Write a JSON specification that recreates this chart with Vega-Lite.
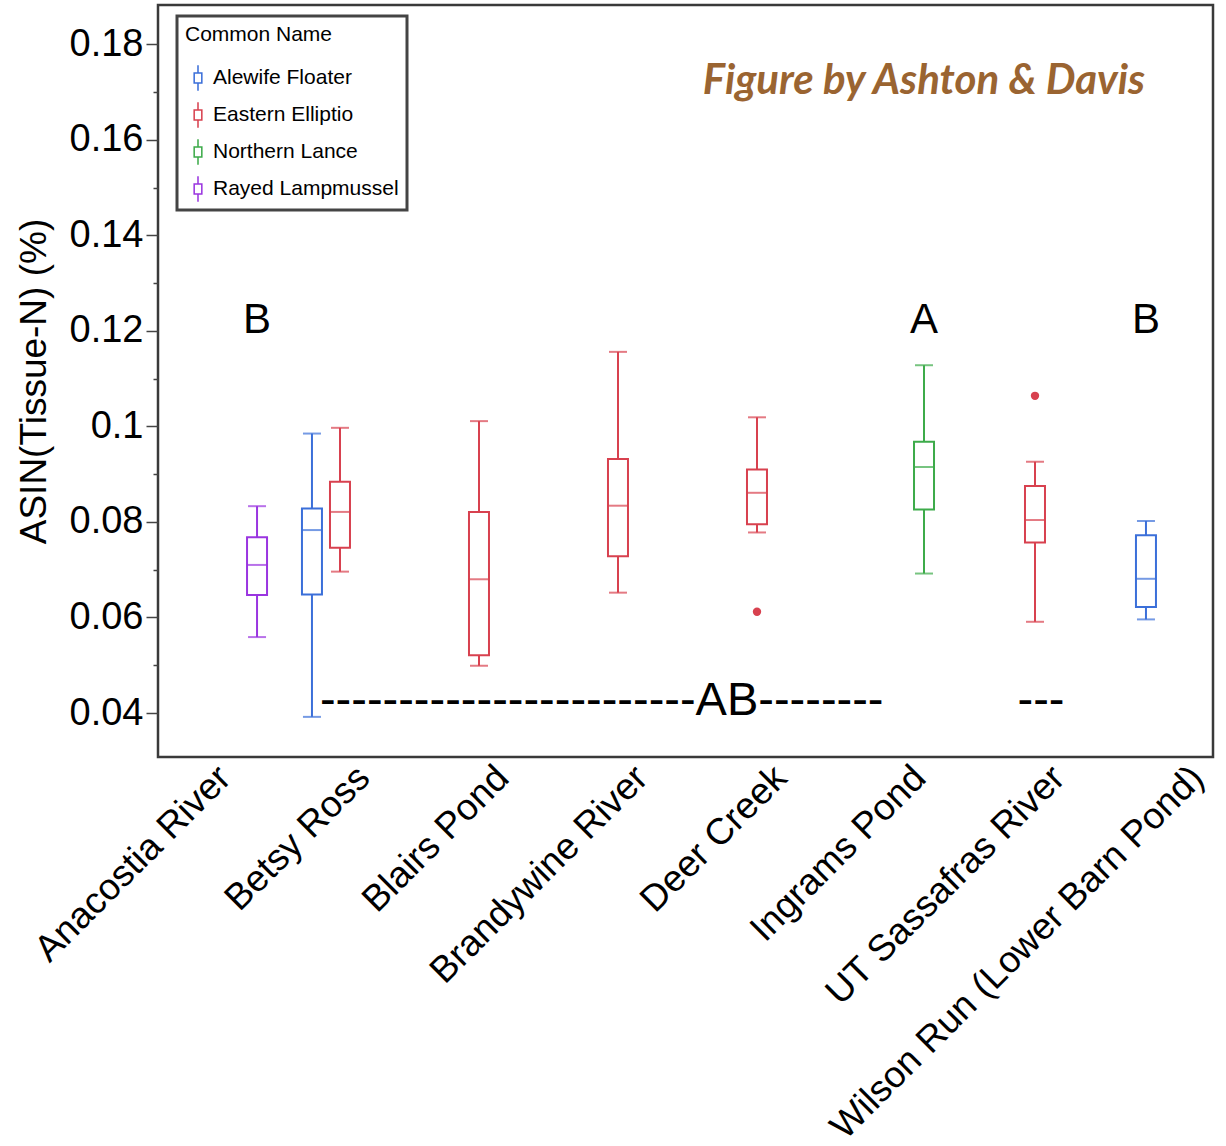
{
  "$schema": "https://vega.github.io/schema/vega-lite/v6.json",
  "autosize": {"type": "none"},
  "padding": {"left": 158, "top": 5, "right": 13, "bottom": 389},
  "width": 1055,
  "height": 752,
  "background": "white",
  "config": {
    "font": "Liberation Sans",
    "view": {"stroke": "#3a3a3a", "strokeWidth": 2.5},
    "axis": {"grid": false},
    "axisY": {
      "labelExpr": "round(datum.value*100) % 2 == 0 ? format(datum.value, '.2~f') : ''",
      "tickSize": 12,
      "tickColor": "#444",
      "tickWidth": 1.5,
      "domain": false,
      "labelFontSize": 38,
      "labelColor": "black",
      "labelPadding": 3,
      "titleFontSize": 37,
      "titleFontWeight": "normal",
      "titleColor": "black",
      "titlePadding": 16
    },
    "legend": {"strokeWidth": 3, "strokeColor": "#444"}
  },
  "title": {
    "text": "Figure by Ashton & Davis",
    "anchor": "end",
    "frame": "group",
    "font": "Lato",
    "fontSize": 42,
    "fontWeight": "bold",
    "fontStyle": "italic",
    "color": "#9a6431",
    "baseline": "middle",
    "offset": 0,
    "dx": -68,
    "dy": 118
  },
  "datasets": {
    "boxes": [
      {"site": "Anacostia River", "species": "Rayed Lampmussel", "lo": 0.0559, "q1": 0.0647, "med": 0.0710, "q3": 0.0768, "hi": 0.0833},
      {"site": "Betsy Ross", "species": "Alewife Floater", "lo": 0.0392, "q1": 0.0648, "med": 0.0783, "q3": 0.0828, "hi": 0.0985},
      {"site": "Betsy Ross", "species": "Eastern Elliptio", "lo": 0.0696, "q1": 0.0746, "med": 0.0821, "q3": 0.0884, "hi": 0.0997},
      {"site": "Blairs Pond", "species": "Eastern Elliptio", "lo": 0.0499, "q1": 0.0521, "med": 0.0680, "q3": 0.0821, "hi": 0.1011},
      {"site": "Brandywine River", "species": "Eastern Elliptio", "lo": 0.0652, "q1": 0.0728, "med": 0.0834, "q3": 0.0932, "hi": 0.1156},
      {"site": "Deer Creek", "species": "Eastern Elliptio", "lo": 0.0778, "q1": 0.0795, "med": 0.0861, "q3": 0.0910, "hi": 0.1019},
      {"site": "Ingrams Pond", "species": "Northern Lance", "lo": 0.0692, "q1": 0.0826, "med": 0.0915, "q3": 0.0968, "hi": 0.1128},
      {"site": "UT Sassafras River", "species": "Eastern Elliptio", "lo": 0.0591, "q1": 0.0757, "med": 0.0804, "q3": 0.0875, "hi": 0.0926},
      {"site": "Wilson Run (Lower Barn Pond)", "species": "Alewife Floater", "lo": 0.0596, "q1": 0.0622, "med": 0.0681, "q3": 0.0772, "hi": 0.0802}
    ],
    "outliers": [
      {"site": "Deer Creek", "species": "Eastern Elliptio", "value": 0.0612},
      {"site": "UT Sassafras River", "species": "Eastern Elliptio", "value": 0.1064}
    ],
    "letters": [
      {"site": "Anacostia River", "species": "Rayed Lampmussel", "letter": "B", "value": 0.1195},
      {"site": "Ingrams Pond", "species": "Northern Lance", "letter": "A", "value": 0.1195},
      {"site": "Wilson Run (Lower Barn Pond)", "species": "Alewife Floater", "letter": "B", "value": 0.1195}
    ],
    "abline": [
      {"site": "Betsy Ross", "species": "Alewife Floater", "label": "------------------------AB--------", "value": 0.0396}
    ],
    "abtail": [
      {"site": "UT Sassafras River", "species": "Eastern Elliptio", "label": "---", "value": 0.0396}
    ]
  },
  "encoding": {
    "x": {
      "field": "site",
      "type": "nominal",
      "scale": {
        "domain": ["Anacostia River", "Betsy Ross", "Blairs Pond", "Brandywine River", "Deer Creek", "Ingrams Pond", "UT Sassafras River", "Wilson Run (Lower Barn Pond)"],
        "range": [-12.5, 1099.5],
        "paddingInner": 0,
        "paddingOuter": 0
      },
      "axis": {
        "title": null,
        "ticks": false,
        "domain": false,
        "labelAngle": -45,
        "labelAlign": "right",
        "labelBaseline": "middle",
        "labelFontSize": 37,
        "labelColor": "black",
        "labelPadding": 15,
        "labelOffset": 10,
        "labelLimit": 0,
        "labelOverlap": false
      }
    },
    "xOffset": {
      "field": "species",
      "type": "nominal",
      "scale": {
        "domain": ["Alewife Floater", "Eastern Elliptio", "Northern Lance", "Rayed Lampmussel"],
        "paddingInner": 0,
        "paddingOuter": 0.48
      }
    }
  },
  "layer": [
    {
      "data": {"name": "boxes"},
      "encoding": {
        "color": {
          "field": "species",
          "type": "nominal",
          "scale": {
            "domain": ["Alewife Floater", "Eastern Elliptio", "Northern Lance", "Rayed Lampmussel"],
            "range": ["#3b6fd9", "#d8414f", "#3dab4a", "#9a35e0"]
          },
          "legend": {
            "title": "Common Name",
            "orient": "none",
            "legendX": 19,
            "legendY": 11,
            "symbolType": "M-0.06,-1H0.06V-0.45H-0.06Z M-0.06,0.45H0.06V1H-0.06Z M-0.36,-0.45H0.36V0.45H-0.36Z M-0.24,-0.33V0.33H0.24V-0.33Z",
            "symbolSize": 650,
            "symbolStrokeWidth": 0,
            "titleFont": "Liberation Sans",
            "titleFontSize": 21,
            "titleFontWeight": "normal",
            "titleColor": "black",
            "labelFont": "Liberation Sans",
            "labelFontSize": 21,
            "labelColor": "black",
            "labelOffset": 2,
            "labelLimit": 0,
            "padding": 8,
            "rowPadding": 11,
            "titlePadding": 20,
            "strokeColor": "#444",
            "fillColor": "white"
          }
        }
      },
      "layer": [
        {
          "mark": {"type": "bar", "filled": false, "strokeWidth": 2, "width": 20},
          "encoding": {
            "y": {
              "field": "q1",
              "type": "quantitative",
              "title": "ASIN(Tissue-N) (%)",
              "scale": {"domain": [0.0308, 0.1882], "nice": false, "zero": false},
              "axis": {"tickDash": {"condition": {"test": "round(datum.value*100) % 2 == 0", "value": [12, 0]}, "value": [5, 30]}}
            },
            "y2": {"field": "q3"}
          }
        },
        {
          "mark": {"type": "rule", "strokeWidth": 2},
          "encoding": {
            "y": {"field": "lo", "type": "quantitative", "title": "ASIN(Tissue-N) (%)", "scale": {"domain": [0.0308, 0.1882], "nice": false, "zero": false}},
            "y2": {"field": "q1"}
          }
        },
        {
          "mark": {"type": "rule", "strokeWidth": 2},
          "encoding": {
            "y": {"field": "q3", "type": "quantitative", "title": "ASIN(Tissue-N) (%)", "scale": {"domain": [0.0308, 0.1882], "nice": false, "zero": false}},
            "y2": {"field": "hi"}
          }
        },
        {
          "mark": {"type": "tick", "size": 20, "thickness": 2, "orient": "horizontal"},
          "encoding": {
            "y": {"field": "med", "type": "quantitative", "title": "ASIN(Tissue-N) (%)", "scale": {"domain": [0.0308, 0.1882], "nice": false, "zero": false}}
          }
        },
        {
          "mark": {"type": "tick", "size": 18, "thickness": 2, "orient": "horizontal"},
          "encoding": {
            "y": {"field": "lo", "type": "quantitative", "title": "ASIN(Tissue-N) (%)", "scale": {"domain": [0.0308, 0.1882], "nice": false, "zero": false}}
          }
        },
        {
          "mark": {"type": "tick", "size": 18, "thickness": 2, "orient": "horizontal"},
          "encoding": {
            "y": {"field": "hi", "type": "quantitative", "title": "ASIN(Tissue-N) (%)", "scale": {"domain": [0.0308, 0.1882], "nice": false, "zero": false}}
          }
        }
      ]
    },
    {
      "data": {"name": "outliers"},
      "mark": {"type": "point", "filled": true, "size": 70, "opacity": 1},
      "encoding": {
        "y": {"field": "value", "type": "quantitative", "title": "ASIN(Tissue-N) (%)", "scale": {"domain": [0.0308, 0.1882], "nice": false, "zero": false}},
        "color": {"field": "species", "type": "nominal", "legend": null}
      }
    },
    {
      "data": {"name": "letters"},
      "mark": {"type": "text", "fontSize": 42, "color": "black", "align": "center", "baseline": "alphabetic"},
      "encoding": {
        "y": {"field": "value", "type": "quantitative", "title": "ASIN(Tissue-N) (%)", "scale": {"domain": [0.0308, 0.1882], "nice": false, "zero": false}},
        "text": {"field": "letter"}
      }
    },
    {
      "data": {"name": "abline"},
      "mark": {"type": "text", "fontSize": 47, "color": "black", "align": "left", "baseline": "alphabetic", "dx": 8},
      "encoding": {
        "y": {"field": "value", "type": "quantitative", "title": "ASIN(Tissue-N) (%)", "scale": {"domain": [0.0308, 0.1882], "nice": false, "zero": false}},
        "text": {"field": "label"}
      }
    },
    {
      "data": {"name": "abtail"},
      "mark": {"type": "text", "fontSize": 47, "color": "black", "align": "center", "baseline": "alphabetic", "dx": 6},
      "encoding": {
        "y": {"field": "value", "type": "quantitative", "title": "ASIN(Tissue-N) (%)", "scale": {"domain": [0.0308, 0.1882], "nice": false, "zero": false}},
        "text": {"field": "label"}
      }
    }
  ]
}
